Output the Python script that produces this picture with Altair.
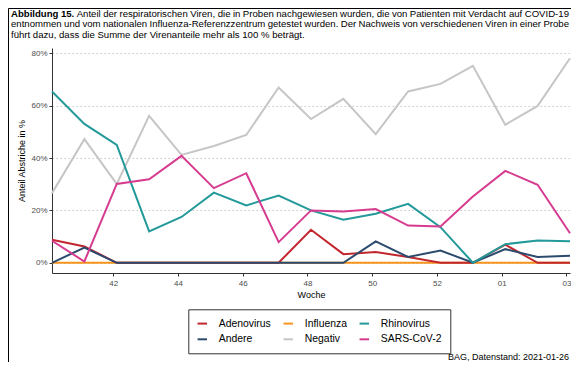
import altair as alt
import pandas as pd

weeks = ["40", "41", "42", "43", "44", "45", "46", "47", "48", "49", "50", "51", "52", "53", "01", "02", "03"]
adenovirus = [8.8, 6.2, 0, 0, 0, 0, 0, 0, 12.6, 3.3, 4.1, 2.2, 0, 0, 6.9, 0, 0]
andere = [0, 5.8, 0, 0, 0, 0, 0, 0, 0, 0, 8.2, 2.2, 4.7, 0, 5.2, 2.2, 2.7]
influenza = [0, 0, 0, 0, 0, 0, 0, 0, 0, 0, 0, 0, 0, 0, 0, 0, 0]
negativ = [26.6, 47.2, 30.1, 56.1, 41.2, 44.6, 48.8, 66.9, 54.9, 62.6, 49.1, 65.4, 68.3, 75.2, 52.7, 59.9, 78.1]
rhinovirus = [65.4, 53.0, 45.0, 12.0, 17.5, 26.8, 21.9, 25.7, 20.0, 16.4, 18.7, 22.5, 13.6, 0, 7.1, 8.5, 8.2]
sars_cov_2 = [8.4, 0.5, 30.1, 31.9, 40.8, 28.5, 34.2, 7.9, 20.0, 19.6, 20.5, 14.2, 13.9, 25.3, 35.1, 29.8, 11.3]

draw_order = ["Negativ", "Influenza", "Adenovirus", "Andere", "Rhinovirus", "SARS-CoV-2"]
legend_order = ["Adenovirus", "Influenza", "Rhinovirus", "Andere", "Negativ", "SARS-CoV-2"]
legend_colors = ["#c1272d", "#f7941d", "#23999a", "#2b4a6e", "#c6c6c6", "#d63b8f"]

title_bold = "Abbildung 15."
title_line1 = "Anteil der respiratorischen Viren, die in Proben nachgewiesen wurden, die von Patienten mit Verdacht auf COVID-19"
title_line2 = "entnommen und vom nationalen Influenza-Referenzzentrum getestet wurden. Der Nachweis von verschiedenen Viren in einer Probe"
title_line3 = "führt dazu, dass die Summe der Virenanteile mehr als 100 % beträgt."
caption = "BAG, Datenstand: 2021-01-26"

values = {
    "Adenovirus": adenovirus,
    "Andere": andere,
    "Influenza": influenza,
    "Negativ": negativ,
    "Rhinovirus": rhinovirus,
    "SARS-CoV-2": sars_cov_2,
}

rows = []
for name in draw_order:
    for i, v in enumerate(values[name]):
        rows.append({"idx": i, "week": weeks[i], "series": name, "value": v})
df = pd.DataFrame(rows)

FONT = "Liberation Sans"
label_expr = "[" + ",".join("'" + w + "'" for w in weeks) + "][round(datum.value)]"

lines = alt.Chart(df).mark_line(strokeWidth=2).encode(
    x=alt.X(
        "idx:Q",
        scale=alt.Scale(domain=[0, 16], range=[0, 518], nice=False, zero=False),
        axis=alt.Axis(
            values=[i - 0.11 for i in range(2, 17, 2)],
            labelExpr=label_expr,
            title="Woche",
            grid=False,
            tickSize=3,
            labelPadding=3,
            titlePadding=3,
        ),
    ),
    y=alt.Y(
        "value:Q",
        scale=alt.Scale(domain=[-3.9, 82.0], nice=False, zero=False),
        axis=alt.Axis(
            values=[0, 20, 40, 60, 80],
            labelExpr="datum.value + '%'",
            title="Anteil Abstriche in %",
            grid=True,
            gridDash=[1.5, 2.5],
            gridColor="#c8c8c8",
            tickSize=3,
            labelPadding=2,
            titlePadding=4,
        ),
    ),
    color=alt.Color(
        "series:N",
        scale=alt.Scale(domain=legend_order, range=legend_colors),
        legend=alt.Legend(
            orient="none",
            legendX=136.3,
            legendY=261.3,
            direction="horizontal",
            columns=3,
            gridAlign="each",
            title=None,
            symbolType="stroke",
            symbolStrokeWidth=2,
            symbolSize=90,
            labelFontSize=10.4,
            labelFont=FONT,
            labelColor="black",
            strokeColor="#333333",
            fillColor="white",
            padding=8,
            rowPadding=4,
            columnPadding=8,
            labelOffset=10.5,
        ),
    ),
)

# Arial / Liberation Sans advance widths (per 1000 em) for the title text
_W = {
    "a": 556, "b": 556, "c": 500, "d": 556, "e": 556, "f": 278, "g": 556, "h": 556, "i": 222,
    "j": 222, "k": 500, "l": 222, "m": 833, "n": 556, "o": 556, "p": 556, "q": 556, "r": 333,
    "s": 500, "t": 278, "u": 556, "v": 500, "w": 722, "x": 500, "y": 500, "z": 500,
    "A": 667, "B": 667, "C": 722, "D": 722, "E": 667, "F": 611, "G": 778, "H": 722, "I": 278,
    "J": 500, "K": 667, "L": 556, "M": 833, "N": 722, "O": 778, "P": 667, "Q": 778, "R": 722,
    "S": 667, "T": 611, "U": 722, "V": 667, "W": 944, "X": 667, "Y": 667, "Z": 611,
    ",": 278, ".": 278, "-": 333, "%": 889, "ü": 556, "ä": 556, "ö": 556, ":": 278,
}
_WB = {"A": 722, "b": 611, "i": 278, "l": 278, "d": 611, "u": 611, "n": 611, "g": 611, ".": 278}


def word_width(w, size, bold=False):
    tot = 0
    for ch in w:
        if ch.isdigit():
            tot += 556
        elif bold and ch in _WB:
            tot += _WB[ch]
        else:
            tot += _W.get(ch, 556)
    return tot * size / 1000.0


OX, OY = 52, 48  # page position of the plot origin
TSIZE = 9.6


def text_layer(txt, x, y, size, weight="normal", align="left", baseline="alphabetic"):
    return alt.Chart(pd.DataFrame({"t": [txt]})).mark_text(
        font=FONT, fontSize=size, fontWeight=weight, align=align, baseline=baseline, color="black"
    ).encode(x=alt.value(x), y=alt.value(y), text="t:N")


def justified(words, bold_flags, left, right, base):
    widths = [word_width(w, TSIZE, b) for w, b in zip(words, bold_flags)]
    gap = max((right - left - sum(widths)) / (len(words) - 1), 2.2)
    out = []
    x = left
    for w, b, wd in zip(words, bold_flags, widths):
        out.append(text_layer(w, x - OX, base - OY, TSIZE, weight="bold" if b else "normal"))
        x += wd + gap
    return out


w1 = title_bold.split() + title_line1.split()
b1 = [True] * len(title_bold.split()) + [False] * len(title_line1.split())
w2 = title_line2.split()
title_layers = justified(w1, b1, 11, 569, 16.5) + justified(w2, [False] * len(w2), 11, 569, 27.3)
title_layers.append(text_layer(title_line3, 11 - OX, 38.1 - OY, TSIZE))

t_cap = text_layer(caption, 569 - OX, 357 - OY, 9, align="right", baseline="middle")

one = pd.DataFrame({"a": [0]})
border_left = alt.Chart(one).mark_rule(color="black", strokeWidth=1).encode(
    x=alt.value(-43.5), y=alt.value(-39.5), y2=alt.value(400)
)
border_top = alt.Chart(one).mark_rule(color="black", strokeWidth=1).encode(
    x=alt.value(-43.5), x2=alt.value(700), y=alt.value(-39.5)
)

chart = alt.layer(lines, *title_layers, t_cap, border_left, border_top).properties(
    width=519,
    height=225,
    autosize=alt.AutoSizeParams(type="none"),
    padding={"left": 44, "top": 40, "right": 0, "bottom": 89},
    background="white",
).configure_view(stroke=None).configure_axis(
    domainColor="#333333",
    tickColor="#333333",
    labelColor="#4d4d4d",
    labelFont=FONT,
    labelFontSize=8,
    titleFont=FONT,
    titleFontSize=9,
    titleFontWeight="normal",
    titleColor="black",
)

chart.save("out.html", embed_options={"renderer": "svg", "actions": False})
